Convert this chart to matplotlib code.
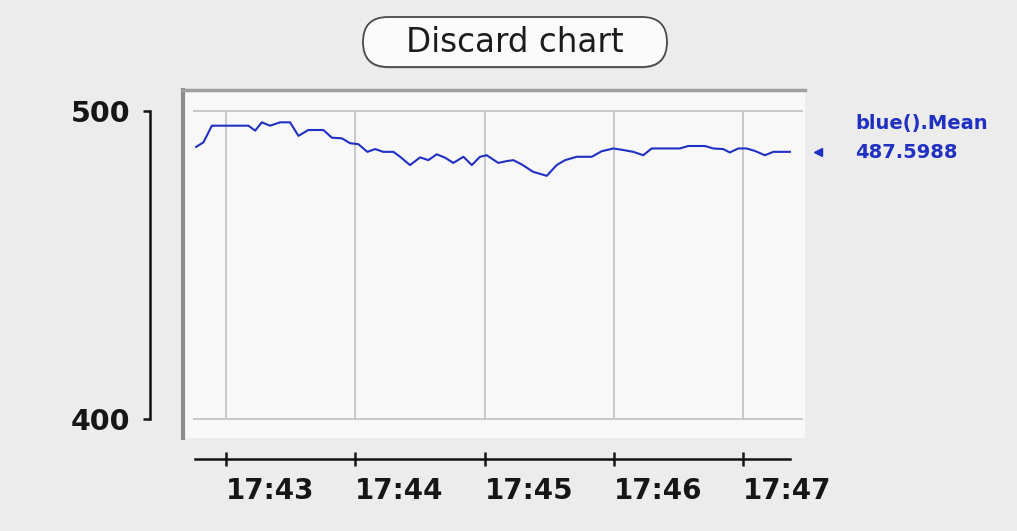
import matplotlib.pyplot as plt
from matplotlib.patches import FancyBboxPatch

# seconds after 17:42:00
seconds = [46.1, 49.5, 53.4, 70.4, 73.5, 76.6, 80.4, 85.1, 89.7, 93.6,
           98.2, 105.2, 109.1, 113.7, 117.6, 121.4, 125.6, 129.2, 133.0, 137.7,
           140.8, 145.4, 150.1, 153.9, 157.8, 161.7, 165.5, 170.2, 174.1, 177.9,
           181.0, 186.4, 190.3, 193.4, 197.3, 202.6, 208.9, 213.5, 217.4, 222.8,
           229.8, 234.4, 239.8, 244.4, 249.1, 253.7, 257.6, 270.7, 274.6, 282.3,
           286.2, 290.8, 293.9, 297.8, 301.7, 305.5, 310.2, 314.1, 321.8]
mean_blue = [488.3, 489.8, 495.2, 495.2, 493.6, 496.3, 495.2, 496.3, 496.3, 491.9,
             493.8, 493.8, 491.3, 491.1, 489.5, 489.2, 486.7, 487.6, 486.7, 486.7,
             485.1, 482.4, 484.9, 484.0, 485.9, 484.8, 483.1, 485.1, 482.4, 485.1,
             485.6, 483.1, 483.7, 484.0, 482.6, 480.2, 478.9, 482.4, 484.0, 485.1,
             485.1, 486.9, 487.8, 487.3, 486.7, 485.6, 487.8, 487.8, 488.6, 488.6,
             487.8, 487.6, 486.5, 487.8, 487.8, 487.0, 485.6, 486.7, 486.7]

tick_seconds = [60, 120, 180, 240, 300]
tick_labels = ["17:43", "17:44", "17:45", "17:46", "17:47"]
y_ticks = [400, 500]
series_name = "blue().Mean"
last_value = "487.5988"

W, H = 1017, 531
BG = "#ececec"
BLUE = "#1f30c2"

fig = plt.figure(figsize=(W / 100, H / 100), dpi=100, facecolor=BG)

def box(x0, y0, x1, y1):
    # pixel box (top-left origin) -> figure fraction
    return [x0 / W, 1 - y1 / H, (x1 - x0) / W, (y1 - y0) / H]

xlim = (40.0, 328.8)
ylim = (393.7, 506.8)

# main plot panel
ax = fig.add_axes(box(183, 90, 805, 438))
ax.set_facecolor("#f8f8f8")
ax.set_xlim(*xlim)
ax.set_ylim(*ylim)
ax.set_xticks([])
ax.set_yticks([])
ax.spines["right"].set_visible(False)
ax.spines["bottom"].set_visible(False)
ax.spines["left"].set_color("#8c8c8c")
ax.spines["left"].set_linewidth(3)
ax.spines["top"].set_color("#a0a0a0")
ax.spines["top"].set_linewidth(2.5)

ax.hlines(y_ticks, 44.7, 327.9, color="#c4c4c4", lw=1.3, zorder=1)
ax.vlines(tick_seconds, min(y_ticks), max(y_ticks), color="#c4c4c4", lw=1.3, zorder=1)
ax.plot(seconds, mean_blue, color=BLUE, lw=1.5, zorder=3)

# value indicator and series label
ax.plot([334.8], [mean_blue[-1]], marker="<", color=BLUE, markersize=6, clip_on=False)
fig.text(855 / W, 1 - 124 / H, series_name, color=BLUE, fontsize=14, fontweight="bold",
         va="center", ha="left")
fig.text(855 / W, 1 - 152 / H, last_value, color=BLUE, fontsize=14, fontweight="bold",
         va="center", ha="left")

# left value axis
ay = fig.add_axes(box(150, 90, 152, 438))
ay.patch.set_visible(False)
ay.set_ylim(*ylim)
ay.set_xticks([])
for s in ["top", "right", "bottom"]:
    ay.spines[s].set_visible(False)
ay.spines["left"].set_bounds(min(y_ticks), max(y_ticks))
ay.spines["left"].set_linewidth(1.8)
ay.spines["left"].set_color("#111111")
ay.set_yticks(y_ticks)
ay.set_yticklabels([str(v) for v in y_ticks])
ay.tick_params(axis="y", direction="out", length=5, width=1.8, pad=9,
               labelsize=20.5, colors="#161616")
for t in ay.get_yticklabels():
    t.set_fontweight("bold")

# bottom time axis
axb = fig.add_axes(box(183, 457, 805, 459))
axb.patch.set_visible(False)
axb.set_xlim(*xlim)
axb.set_yticks([])
for s in ["top", "right", "left"]:
    axb.spines[s].set_visible(False)
axb.spines["bottom"].set_bounds(45.6, 321.8)
axb.spines["bottom"].set_linewidth(1.8)
axb.spines["bottom"].set_color("#111111")
axb.set_xticks(tick_seconds)
axb.set_xticklabels(tick_labels)
axb.tick_params(axis="x", direction="inout", length=10, width=1.8, pad=8,
                labelsize=20, colors="#161616")
for t in axb.get_xticklabels():
    t.set_fontweight("bold")
    t.set_horizontalalignment("left")

# "Discard chart" button (pill shape, in inches)
shadow = FancyBboxPatch((3.63, 4.625), 3.04, 0.50,
                        boxstyle="round,pad=0,rounding_size=0.25",
                        transform=fig.dpi_scale_trans, facecolor="#b8b8b8",
                        edgecolor="none")
btn = FancyBboxPatch((3.63, 4.64), 3.04, 0.50,
                     boxstyle="round,pad=0,rounding_size=0.25",
                     transform=fig.dpi_scale_trans, facecolor="#fbfbfb",
                     edgecolor="#4a4a4a", lw=1.3)
fig.patches.append(shadow)
fig.patches.append(btn)
fig.text(515 / W, 1 - 42 / H, "Discard chart", fontsize=23.5, color="#1c1c1c",
         ha="center", va="center")

fig.savefig("out.png", dpi=100, facecolor=BG)
